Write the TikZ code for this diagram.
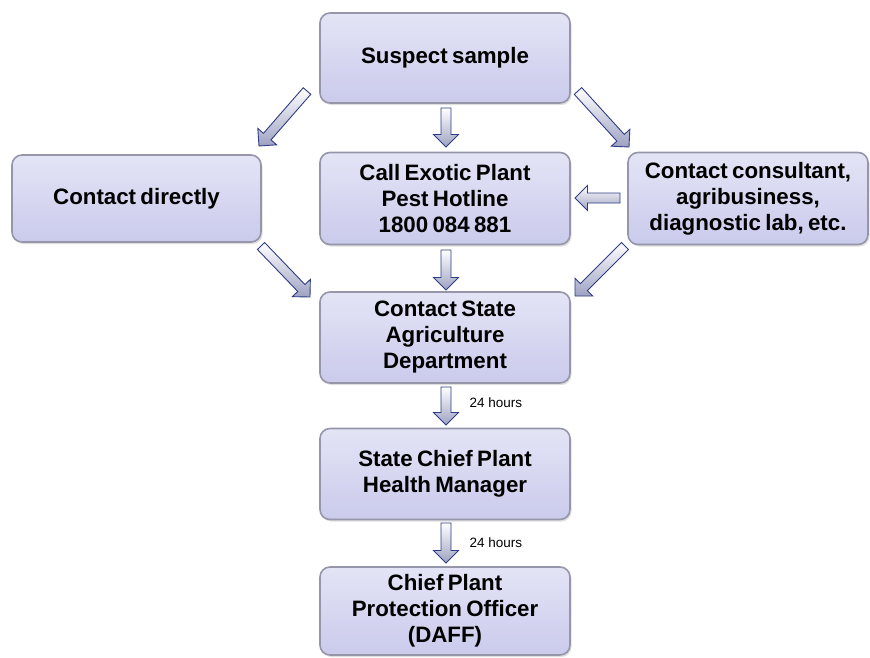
\documentclass[tikz,border=0pt]{standalone}
\usepackage{fontspec}
\setmainfont{Liberation Sans}
\newfontfamily\boxfam{Liberation Sans}[WordSpace=0.7]
\usetikzlibrary{calc,shadows}
\definecolor{boxtop}{HTML}{E4E4F6}
\definecolor{boxbot}{HTML}{CACAEC}
\definecolor{boxline}{HTML}{9696AA}
\definecolor{arrline}{HTML}{2F3D84}
\definecolor{arrbot}{HTML}{9EA2C2}
\tikzset{
  box/.style={rounded corners=10pt, top color=boxtop, bottom color=boxbot,
    draw=boxline, line width=1.6pt, align=center, inner sep=0pt,
    font=\boxfam\fontsize{22.3}{26}\selectfont\bfseries,
    drop shadow={opacity=0.25, shadow xshift=1.5pt, shadow yshift=-2pt}},
  blkarr/.style={draw=arrline, line width=0.9pt, top color=white, bottom color=arrbot, line join=miter},
  hrs/.style={font=\fontsize{13.5}{16}\selectfont, anchor=west}
}
\newcommand\blkarrow[2]{%
  \coordinate (bac) at ($(#2)!12.5pt!(#1)$);
  \path[blkarr] ($(#1)!5pt!90:(#2)$) -- ($(bac)!5pt!90:(#2)$) -- ($(bac)!12.5pt!90:(#2)$)
    -- (#2) -- ($(bac)!12.5pt!-90:(#2)$) -- ($(bac)!5pt!-90:(#2)$) -- ($(#1)!5pt!-90:(#2)$) -- cycle;}
\begin{document}
\begin{tikzpicture}[x=1pt,y=-1pt]
\useasboundingbox[fill=white] (0,0) rectangle (870,657);
\node[box, minimum width=250pt, minimum height=90pt] (sus) at (445,58) {Suspect sample};
\node[box, minimum width=250pt, minimum height=92pt] (call) at (445,198.5) {Call Exotic Plant\\Pest Hotline\\1800 084 881};
\node[box, minimum width=249pt, minimum height=87pt] (dir) at (136.5,198.5) {Contact directly};
\node[box, minimum width=240pt, minimum height=92pt] (cons) at (748,198.5) {Contact consultant,\\agribusiness,\\diagnostic lab, etc.};
\node[box, minimum width=250pt, minimum height=91pt] (state) at (445,337.5) {Contact State\\Agriculture\\Department};
\node[box, minimum width=250pt, minimum height=91pt] (cpm) at (445,474) {State Chief Plant\\Health Manager};
\node[box, minimum width=250pt, minimum height=88pt] (cppo) at (445,611) {Chief Plant\\Protection Officer\\(DAFF)};
% arrow end points
\coordinate (a1t) at (446,108); \coordinate (a1h) at (446,147);
\coordinate (a2t) at (446,250); \coordinate (a2h) at (446,290);
\coordinate (a3t) at (446,387); \coordinate (a3h) at (446,425);
\coordinate (a4t) at (446,523); \coordinate (a4h) at (446,563);
\coordinate (a5t) at (307,91); \coordinate (a5h) at (259,146);
\coordinate (a6t) at (578,91); \coordinate (a6h) at (629,147);
\coordinate (a7t) at (261,246); \coordinate (a7h) at (310,297);
\coordinate (a8t) at (625,246); \coordinate (a8h) at (575,296);
\coordinate (a9t) at (620,198); \coordinate (a9h) at (575,198);
\blkarrow{a1t}{a1h}
\blkarrow{a2t}{a2h}
\blkarrow{a3t}{a3h}
\blkarrow{a4t}{a4h}
\blkarrow{a5t}{a5h}
\blkarrow{a6t}{a6h}
\blkarrow{a7t}{a7h}
\blkarrow{a8t}{a8h}
\blkarrow{a9t}{a9h}
\node[hrs] (h1) at (466,403) {24 hours};
\node[hrs] (h2) at (466,543) {24 hours};
\end{tikzpicture}
\end{document}
